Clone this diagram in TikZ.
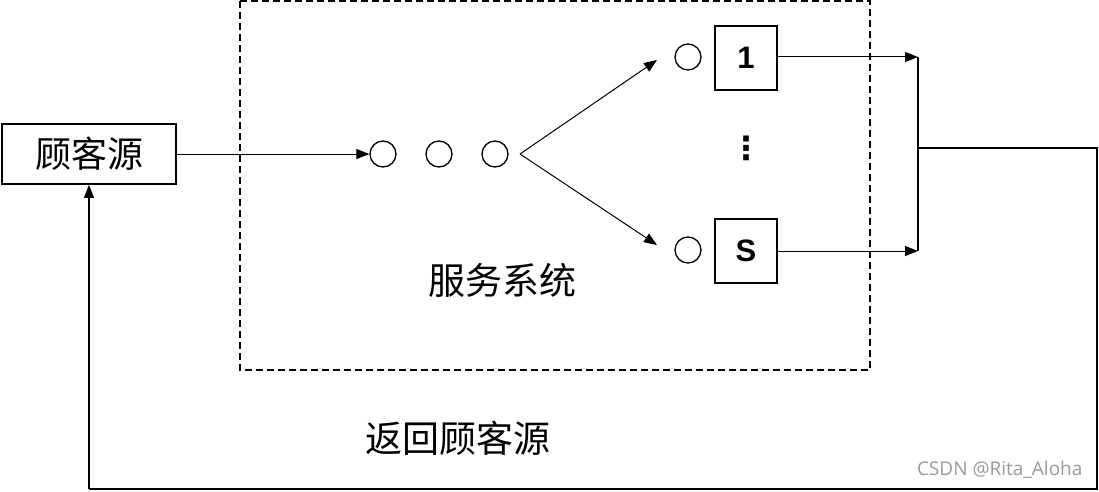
\documentclass[tikz,border=0pt]{standalone}
\usepackage{fontspec}
\setmainfont{Liberation Sans}
\newfontfamily\cjk{Noto Sans CJK SC}
\newfontfamily\symfont{DejaVu Sans}
\newfontfamily\markfont{Open Sans}
\usetikzlibrary{arrows.meta,positioning}
\begin{document}
\begin{tikzpicture}[x=1pt, y=-1pt,
  src/.style={draw, line width=1.8pt, minimum width=174pt, minimum height=60pt, inner sep=0pt, font=\cjk\fontsize{36}{36}\selectfont},
  desk/.style={draw, line width=1.8pt, minimum width=62pt, minimum height=64pt, inner sep=0pt, font=\bfseries\fontsize{31}{31}\selectfont},
  cust/.style={circle, draw, line width=1.3pt, minimum size=26pt, inner sep=0pt},
  flow/.style={line width=1pt, -{Triangle[length=13pt, width=10pt]}},
  back/.style={line width=1.3pt},
  lab/.style={font=\cjk\fontsize{37}{37}\selectfont}]
\useasboundingbox (0,0) rectangle (1099,492);
% service system frame
\draw[line width=1.8pt, dash pattern=on 7pt off 4pt] (240,1) rectangle (870,370);
\node[src] (source) at (89,154) {顾客源};
% queue
\foreach \k/\x in {1/383,2/439,3/495}
  \node[cust] (q\k) at (\x,154) {};
\coordinate (fork) at (520,154);
\node[cust] (w1) at (688,57) {};
\node[cust] (ws) at (688,250) {};
\node[desk] (d1) at (746,58) {1};
\node[desk] (ds) at (746,251) {S};
\node[font=\symfont\bfseries\fontsize{32}{32}\selectfont] (dots) at (746,148) {⋮};
\node[lab] (sys) at (502,280) {服务系统};
\node[lab] (ret) at (458,438) {返回顾客源};
\node[text=black!40, anchor=east, font=\markfont\fontsize{19}{19}\selectfont] (mark) at (1086,470) {CSDN @Rita\_Aloha};
% connectors
\draw[flow] (source.east) -- (q1.west);
\draw[flow] (fork) -- (657,60) coordinate (t1);
\draw[flow] (fork) -- (657,245) coordinate (ts);
\coordinate (j1) at (918,57);
\coordinate (js) at (918,251);
\coordinate (jm) at (918,148);
\draw[flow] (d1.east |- j1) -- (j1);
\draw[flow] (ds.east |- js) -- (js);
\draw[back] (j1) -- (js);
\draw[back] (jm) -- (1097,148) coordinate (c1) -- (1097,489) coordinate (c2)
  -- (source |- c2) coordinate (c3);
\draw[back, -{Triangle[length=13pt, width=10pt]}] (c3) -- (source.south);
\end{tikzpicture}
\end{document}
